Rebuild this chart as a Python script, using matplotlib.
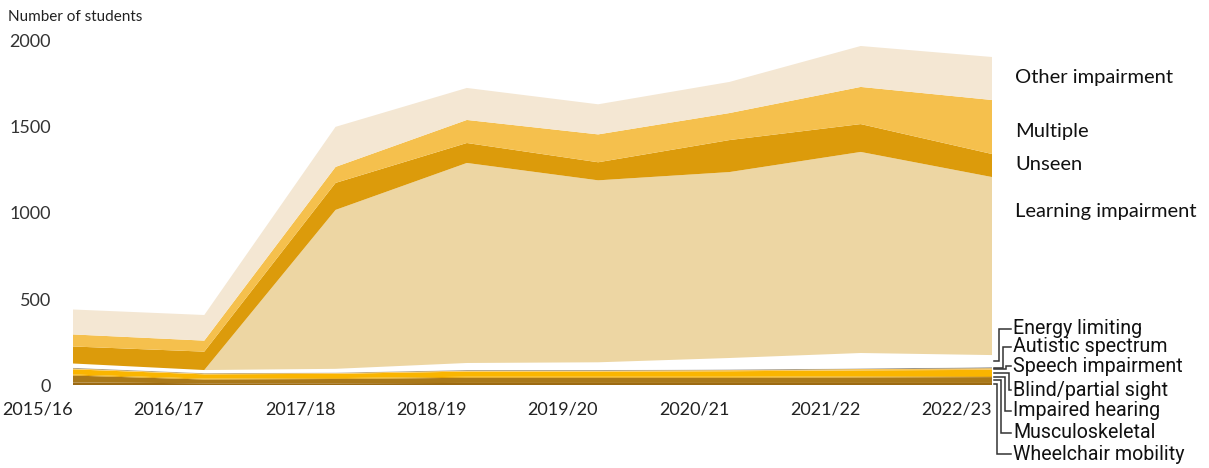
import matplotlib
matplotlib.use("Agg")
import matplotlib.pyplot as plt
import numpy as np

# Data
years = ["2015/16", "2016/17", "2017/18", "2018/19", "2019/20", "2020/21", "2021/22", "2022/23"]

wheelchair = [15, 10, 10, 12, 12, 12, 12, 12]
musculoskeletal = [40, 22, 25, 30, 30, 30, 32, 34]
hearing = [6, 5, 5, 6, 6, 6, 6, 6]
blind = [30, 25, 25, 30, 30, 32, 35, 36]
speech = [6, 5, 5, 6, 6, 7, 8, 10]
autistic = [3, 2, 2, 3, 3, 3, 3, 5]
energy = [25, 18, 22, 41, 45, 67, 90, 71]
learning = [0, 0, 924, 1163, 1058, 1081, 1169, 1035]
unseen = [99, 107, 157, 116, 105, 186, 162, 134]
multiple = [70, 64, 93, 134, 162, 157, 216, 314]
other = [145, 149, 233, 186, 175, 181, 238, 250]

series = [wheelchair, musculoskeletal, hearing, blind, speech, autistic,
          energy, learning, unseen, multiple, other]
names = ["Wheelchair mobility", "Musculoskeletal", "Impaired hearing",
         "Blind/partial sight", "Speech impairment", "Autistic spectrum",
         "Energy limiting", "Learning impairment", "Unseen", "Multiple",
         "Other impairment"]
colors = ["#9c6a12", "#a97819", "#e6a200", "#fab500", "#f6c45c", "#6a6a6a",
          "#ffffff", "#edd6a3", "#dc9b0b", "#f5c04d", "#f4e7d3"]

W, H = 1209, 468
fig = plt.figure(figsize=(W / 100, H / 100), dpi=100)
plt.rcParams["font.family"] = ["Lato", "DejaVu Sans"]

x0, x1, y0, y1 = 73, 992, 385, 41
ax = fig.add_axes([x0 / W, 1 - y0 / H, (x1 - x0) / W, (y0 - y1) / H])
xs = np.arange(len(years))
ax.stackplot(xs, *series, colors=colors, linewidth=0, antialiased=True)
ax.set_xlim(0, len(years) - 1)
ax.set_ylim(0, 2000)
ax.set_yticks([0, 500, 1000, 1500, 2000])
ax.set_xticks(xs)
ax.set_xticklabels(years)
for lab in ax.get_xticklabels():
    lab.set_ha("right")
ax.tick_params(axis="y", length=0, pad=16, labelsize=13, labelcolor="#333333")
ax.tick_params(axis="x", length=0, pad=12, labelsize=13, labelcolor="#222222")
for s in ax.spines.values():
    s.set_visible(False)

fig.text(8 / W, 1 - 17 / H, "Number of students", fontsize=11, va="center", color="#222222")

# overlay in pixel coordinates for labels and connectors
ov = fig.add_axes([0, 0, 1, 1], zorder=5)
ov.set_xlim(0, W)
ov.set_ylim(H, 0)
ov.axis("off")
ov.patch.set_alpha(0)

cum = np.cumsum([s[-1] for s in series])
below = cum - np.array([s[-1] for s in series])


def ypix(v):
    # data value at the last point -> overlay pixel y
    disp = ax.transData.transform((len(years) - 1, v))
    return H - disp[1] * 100 / fig.dpi


# upper labels placed beside their layers
upper = {"Other impairment": 78, "Multiple": 131, "Unseen": 165, "Learning impairment": 211}
for name, ly in upper.items():
    ov.text(1015, ly, name, fontsize=14.5, va="center", ha="left", color="#111111")

# lower labels with elbow connectors
lower = [("Energy limiting", 329, 999), ("Autistic spectrum", 347, 1003),
         ("Speech impairment", 366, 1006), ("Blind/partial sight", 390, 1009),
         ("Impaired hearing", 411, 1005), ("Musculoskeletal", 433, 1001),
         ("Wheelchair mobility", 454, 997)]
for name, ly, xv in lower:
    i = names.index(name)
    ym = ypix(below[i] + series[i][-1] / 2)
    ov.plot([x1 + 2, xv, xv, 1011], [ym, ym, ly, ly], color="#333333", lw=1.1,
            solid_joinstyle="miter")
    ov.text(1013, ly, name, fontsize=14.1, va="center", ha="left",
            color="#111111", family=["Roboto", "DejaVu Sans"])

fig.savefig("out.png", dpi=100)
